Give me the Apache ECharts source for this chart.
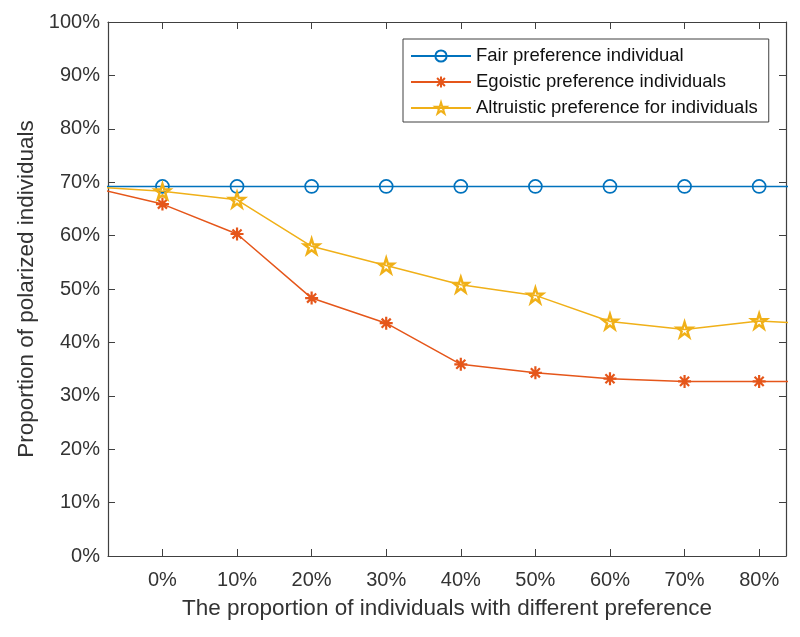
<!DOCTYPE html>
<html>
<head>
<meta charset="utf-8">
<script src="https://cdn.jsdelivr.net/npm/echarts@6/dist/echarts.min.js"></script>
<style>
  html, body { margin: 0; padding: 0; background: #fff; }
  #chartContainer { width: 800px; height: 637px; }
</style>
</head>
<body>
<div id="chartContainer"></div>
<script>
// x positions (%) - first and last fall outside the visible range and get clipped
var xValues = [-10, 0, 10, 20, 30, 40, 50, 60, 70, 80, 90];
var tickValues = [0, 10, 20, 30, 40, 50, 60, 70, 80];
var fairValues = [69.2, 69.2, 69.2, 69.2, 69.2, 69.2, 69.2, 69.2, 69.2, 69.2, 69.2];
var egoisticValues = [69.2, 65.9, 60.3, 48.3, 43.6, 35.9, 34.3, 33.2, 32.7, 32.7, 32.7];
var altruisticValues = [69.2, 68.3, 66.7, 58.0, 54.4, 50.8, 48.8, 43.9, 42.4, 44.0, 43.3];
var seriesNames = [
  "Fair preference individual",
  "Egoistic preference individuals",
  "Altruistic preference for individuals",
];

var AXIS_COLOR = "#404040";
var TEXT_COLOR = "#333333";
var FONT = "'Liberation Sans', Arial, sans-serif";

var STAR = "path://M50 0 L61.23 34.55 L97.55 34.55 L68.17 55.9 L79.39 90.45 L50 69.1 L20.61 90.45 L31.83 55.9 L2.45 34.55 L38.77 34.55 Z";
var ASTERISK = "path://M0 50 L100 50 M50 0 L50 100 M15 15 L85 85 M85 15 L15 85";

function pairs(values) {
  return xValues.map((x, i) => [x, values[i]]);
}

function makeSeries(name, values, color, symbol, size, bw) {
  return {
    name: name,
    type: "line",
    data: pairs(values),
    xAxisIndex: 0,
    yAxisIndex: 0,
    clip: true,
    symbol: symbol,
    symbolSize: size,
    showAllSymbol: true,
    lineStyle: { color: color, width: 1.5 },
    itemStyle: { color: "transparent", borderColor: color, borderWidth: bw },
    emphasis: { disabled: true },
  };
}

var xMin = -7.3;
var xMax = 83.6;

var CHART_OPTION = {
  animation: false,
  textStyle: { fontFamily: FONT },
  grid: { left: 108, right: 14, top: 22, bottom: 81 },
  legend: {
    orient: "vertical",
    left: 403,
    top: 39,
    padding: [6, 11, 3, 7],
    itemGap: 4,
    itemWidth: 60,
    itemHeight: 14,
    backgroundColor: "#ffffff",
    borderColor: AXIS_COLOR,
    borderWidth: 1,
    textStyle: { fontSize: 18.5, color: "#111", lineHeight: 22, fontFamily: FONT },
    data: seriesNames,
  },
  xAxis: [
    {
      type: "value",
      min: xMin,
      max: xMax,
      name: "The proportion of individuals with different preference",
      nameLocation: "middle",
      nameGap: 41,
      nameTextStyle: { fontSize: 22.5, color: TEXT_COLOR, fontFamily: FONT },
      axisLine: { show: true, onZero: false, lineStyle: { color: AXIS_COLOR, width: 1.2 } },
      axisTick: { show: true, inside: true, length: 7, customValues: tickValues, lineStyle: { color: AXIS_COLOR } },
      axisLabel: {
        customValues: tickValues,
        formatter: "{value}%",
        fontSize: 20,
        color: TEXT_COLOR,
        margin: 14,
      },
      splitLine: { show: false },
    },
    {
      type: "value",
      position: "top",
      min: xMin,
      max: xMax,
      axisLine: { show: true, onZero: false, lineStyle: { color: AXIS_COLOR, width: 1.2 } },
      axisTick: { show: true, inside: true, length: 7, customValues: tickValues, lineStyle: { color: AXIS_COLOR } },
      axisLabel: { show: false },
      splitLine: { show: false },
    },
  ],
  yAxis: [
    {
      type: "value",
      min: 0,
      max: 100,
      interval: 10,
      name: "Proportion of polarized individuals",
      nameLocation: "middle",
      nameGap: 70,
      nameTextStyle: { fontSize: 22.5, color: TEXT_COLOR, fontFamily: FONT },
      axisLine: { show: true, onZero: false, lineStyle: { color: AXIS_COLOR, width: 1.2 } },
      axisTick: { show: true, inside: true, length: 7, lineStyle: { color: AXIS_COLOR } },
      axisLabel: { formatter: "{value}%", fontSize: 20, color: TEXT_COLOR, margin: 8 },
      splitLine: { show: false },
    },
    {
      type: "value",
      position: "right",
      min: 0,
      max: 100,
      interval: 10,
      axisLine: { show: true, onZero: false, lineStyle: { color: AXIS_COLOR, width: 1.2 } },
      axisTick: { show: true, inside: true, length: 7, lineStyle: { color: AXIS_COLOR } },
      axisLabel: { show: false },
      splitLine: { show: false },
    },
  ],
  series: [
    makeSeries(seriesNames[0], fairValues, "#0072BD", "circle", 13, 1.7),
    makeSeries(seriesNames[1], egoisticValues, "#E5561A", ASTERISK, 13, 2.2),
    makeSeries(seriesNames[2], altruisticValues, "#F0B018", STAR, 15, 2.4),
  ],
};

var CHART = echarts.init(document.getElementById("chartContainer"), null, { renderer: "canvas" });
CHART.setOption(CHART_OPTION);
</script>
</body>
</html>
